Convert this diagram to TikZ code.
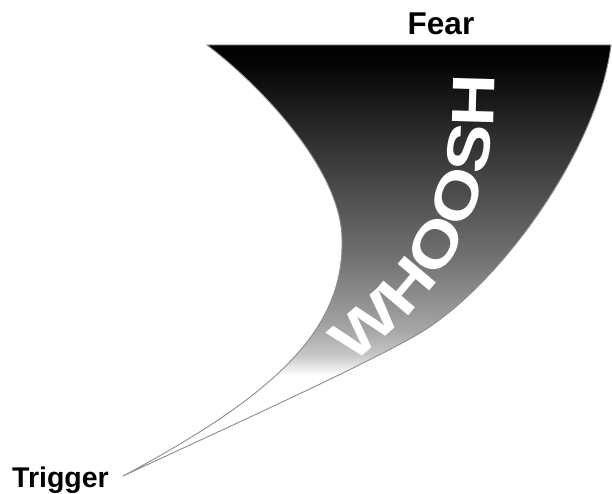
\documentclass[tikz,border=0pt]{standalone}
\usepackage{fontspec}
\setmainfont{Liberation Sans}
\newfontfamily\whooshfont{Liberation Sans Bold}[FakeStretch=1.22]
\usetikzlibrary{decorations.text}
\pgfdeclareverticalshading{fearshade}{100bp}{color(0bp)=(white); color(25bp)=(white); color(26.06bp)=(black!8); color(28.03bp)=(black!22); color(31.82bp)=(black!35); color(42.42bp)=(black!55); color(57.58bp)=(black!77); color(71.97bp)=(black!98); color(75bp)=(black); color(100bp)=(black)}
\definecolor{edgegray}{RGB}{140,140,140}
\tikzset{
  edgeline/.style={draw=edgegray, line width=0.9pt, line join=round},
  lbl/.style={font=\bfseries\fontsize{31.5}{31.5}\selectfont, inner sep=0pt}
}
\begin{document}
\begin{tikzpicture}[x=1pt,y=-1pt]
\useasboundingbox (0,0) rectangle (612,494);
\coordinate (tip) at (123,476);
\coordinate (tl) at (207,45);
\coordinate (tr) at (611,45);
% shaded body
\begin{scope}
  \clip (tl) .. controls (260,85) and (342,170) .. (342,240)
        .. controls (344,330) and (275,395) .. (tip)
        .. controls (200,440) and (370,363) .. (420,333)
        .. controls (500,285) and (598,150) .. (tr) -- cycle;
  \shade[shading=fearshade] (0,45) rectangle (612,375);
\end{scope}
% outline
\path[edgeline] (tl) .. controls (260,85) and (342,170) .. (342,240)
        .. controls (344,330) and (275,395) .. (tip)
        .. controls (200,440) and (370,363) .. (420,333)
        .. controls (500,285) and (598,150) .. (tr) -- cycle;
% WHOOSH along the curve
\path[decorate, decoration={text along path, text color=white,
  text={|\whooshfont\fontsize{60}{60}\selectfont|WHOOSH}}]
  (352,364) .. controls (452,290) and (500,200) .. (494,66);
% labels
\node[lbl, anchor=base] (fear) at (441,35) {Fear};
\node[lbl, font=\bfseries\fontsize{28.5}{28.5}\selectfont, anchor=base west] (trigger) at (12,487) {Trigger};
\end{tikzpicture}
\end{document}
